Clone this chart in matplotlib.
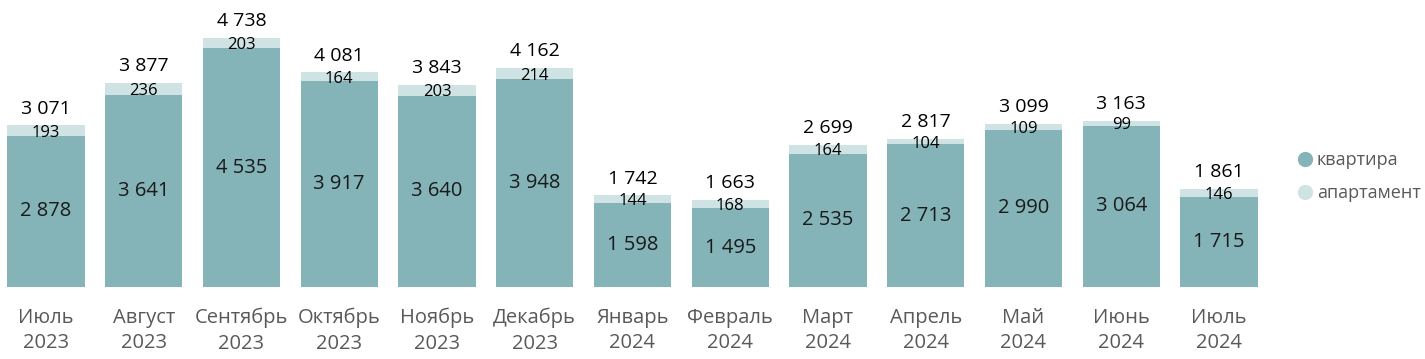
import matplotlib
matplotlib.use('Agg')
import matplotlib.pyplot as plt
from matplotlib.lines import Line2D
import numpy as np

plt.rcParams['font.family'] = ['Open Sans', 'DejaVu Sans']

months = ['Июль\n2023', 'Август\n2023', 'Сентябрь\n2023', 'Октябрь\n2023', 'Ноябрь\n2023',
          'Декабрь\n2023', 'Январь\n2024', 'Февраль\n2024', 'Март\n2024', 'Апрель\n2024',
          'Май\n2024', 'Июнь\n2024', 'Июль\n2024']
kvartira = [2878, 3641, 4535, 3917, 3640, 3948, 1598, 1495, 2535, 2713, 2990, 3064, 1715]
apart = [193, 236, 203, 164, 203, 214, 144, 168, 164, 104, 109, 99, 146]
totals = [3071, 3877, 4738, 4081, 3843, 4162, 1742, 1663, 2699, 2817, 3099, 3163, 1861]

c_kv = '#84B4B8'
c_ap = '#CFE2E4'
c_txt = '#595959'

def fmt(v):
    return '{:,}'.format(v).replace(',', ' ')

fig = plt.figure(figsize=(14.25, 3.59), dpi=100)
ax = fig.add_axes([0, 0.2006, 1270/1425, 0.7716])
x = np.arange(len(months))
ax.bar(x, kvartira, width=0.79, color=c_kv)
ax.bar(x, apart, width=0.79, bottom=kvartira, color=c_ap)

for i in x:
    ax.text(i, kvartira[i] / 2, fmt(kvartira[i]), ha='center', va='center', fontsize=14.5, color='#1a1a1a')
    ax.text(i, kvartira[i] + apart[i] / 2 - 40, fmt(apart[i]), ha='center', va='center', fontsize=12, color='black')
    ax.annotate(fmt(totals[i]), (i, kvartira[i] + apart[i]), xytext=(0, 12), textcoords='offset points',
                ha='center', va='center', fontsize=14, color='black')

x0 = -46 / 97.75
ax.set_xlim(x0, x0 + 1270 / 97.75)
ax.set_ylim(0, 277 / 0.0526)
ax.set_xticks(x)
ax.set_xticklabels(months, fontsize=14.5, color=c_txt, linespacing=1.35)
ax.tick_params(axis='x', length=0, pad=15)
ax.set_yticks([])
for s in ax.spines.values():
    s.set_visible(False)

handles = [Line2D([0], [0], marker='o', color='w', markerfacecolor=c_kv, markersize=12, linewidth=0),
           Line2D([0], [0], marker='o', color='w', markerfacecolor=c_ap, markersize=12, linewidth=0)]
fig.legend(handles, ['квартира', 'апартамент'], loc='center left', bbox_to_anchor=(0.8995, 0.508),
           frameon=False, fontsize=13, labelcolor=c_txt, handlelength=0.8, handletextpad=0.25,
           labelspacing=0.8)

fig.savefig('out.png', dpi=100)
